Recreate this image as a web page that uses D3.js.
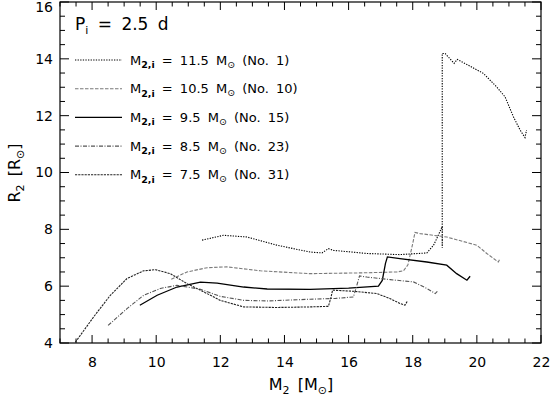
<!DOCTYPE html>
<html><head><meta charset="utf-8">
<script src="https://cdn.jsdelivr.net/npm/d3@7"></script>
<style>
html,body{margin:0;padding:0;background:#fff;}
svg{display:block;font-family:"DejaVu Sans",sans-serif;}
</style></head>
<body><svg id="c" width="551" height="397"></svg>
<script>
// ---- data ----
const xTicks = [8, 10, 12, 14, 16, 18, 20, 22];
const yTicks = [4, 6, 8, 10, 12, 14, 16];
const seriesInitMass = ["11.5", "10.5", "9.5", "8.5", "7.5"];
const seriesNo = ["1", "10", "15", "23", "31"];

const m1 = [11.43, 12.1, 12.83, 13.77, 14.8, 15.17, 15.37, 15.53, 16.57, 17.6, 18.44, 18.65, 18.8, 18.92, 18.92, 18.92, 19.01, 19.29, 19.39, 19.79, 20.2, 20.62, 20.88, 21.14, 21.35, 21.5, 21.55];
const r1 = [7.62, 7.79, 7.73, 7.44, 7.2, 7.17, 7.32, 7.26, 7.15, 7.11, 7.17, 7.44, 7.8, 8.1, 7.35, 14.19, 14.19, 13.84, 13.98, 13.74, 13.49, 13.01, 12.66, 11.96, 11.49, 11.23, 11.49];

const m10 = [10.47, 10.96, 11.59, 12.2, 13.25, 14.8, 16.5, 17.5, 17.71, 17.85, 18.0, 18.07, 18.23, 19.06, 20.0, 20.31, 20.67, 20.72];
const r10 = [6.24, 6.5, 6.65, 6.68, 6.54, 6.44, 6.47, 6.5, 6.54, 6.75, 7.5, 7.89, 7.85, 7.73, 7.44, 7.15, 6.85, 6.97];

const m15 = [9.49, 10.03, 10.65, 11.38, 11.9, 12.73, 13.46, 14.8, 16.0, 16.93, 17.05, 17.15, 17.21, 17.6, 18.44, 19.06, 19.37, 19.69, 19.79];
const r15 = [5.33, 5.68, 5.97, 6.14, 6.11, 5.97, 5.9, 5.89, 5.93, 6.0, 6.2, 6.8, 7.03, 6.97, 6.85, 6.74, 6.44, 6.21, 6.35];

const m23 = [8.5, 9.09, 9.61, 10.13, 10.65, 11.38, 12.0, 12.73, 13.46, 14.8, 15.6, 16.15, 16.25, 16.34, 16.57, 17.3, 18.02, 18.44, 18.7, 18.8];
const r23 = [4.62, 5.21, 5.68, 5.92, 6.03, 5.89, 5.64, 5.5, 5.48, 5.54, 5.57, 5.62, 6.0, 6.36, 6.32, 6.23, 6.15, 5.92, 5.74, 5.86];

const m31 = [7.48, 8.05, 8.57, 9.09, 9.61, 9.98, 10.44, 10.96, 11.48, 12.0, 12.73, 13.77, 14.8, 15.37, 15.45, 15.5, 16.15, 16.88, 17.3, 17.6, 17.76, 17.83];
const r31 = [4.03, 4.92, 5.68, 6.27, 6.54, 6.58, 6.44, 6.09, 5.8, 5.5, 5.27, 5.25, 5.27, 5.29, 5.6, 5.86, 5.82, 5.74, 5.56, 5.39, 5.33, 5.47];

const seriesM = [m1, m10, m15, m23, m31];
const seriesR = [r1, r10, r15, r23, r31];

// ---- styles ----
const strokes = ["#000", "#7a7a7a", "#000", "#555", "#222"];
const dashes = ["1.3,1.3", "3.5,1.5", null, "4,1.5,1,1.5", "2.2,1"];
const widths = [1.1, 1.1, 1.3, 1.1, 1.1];
const FONT = "'DejaVu Sans',sans-serif";

const svg = d3.select("#c");
const L = 60, R = 541, T = 2, B = 343;
const x = d3.scaleLinear().domain([7, 22]).range([L, R]);
const y = d3.scaleLinear().domain([4, 16]).range([B, T]);

const minorX = d3.range(7, 22.001, 0.5);
const minorY = d3.range(4, 16.001, 0.5);
const majLen = 8, minLen = 4.5;

// axes with D3 axis generators
const gB = svg.append("g").attr("transform", `translate(0,${B})`)
  .call(d3.axisBottom(x).tickValues(xTicks).tickSize(0).tickPadding(15).tickFormat(d3.format("d")));
const gL = svg.append("g").attr("transform", `translate(${L},0)`)
  .call(d3.axisLeft(y).tickValues(yTicks).tickSize(0).tickPadding(7).tickFormat(d3.format("d")));
[gB, gL].forEach(g => {
  g.select(".domain").remove();
  g.selectAll("text").attr("font-size", 14).attr("fill", "#000").attr("font-family", FONT);
});
gB.selectAll("text").attr("dy", "0.71em").attr("y", 14);
gL.selectAll(".tick").filter(d => d === 16).select("text").attr("dy", "0.32em").attr("y", 5.5);

// ticks on all four sides
const tk = svg.append("g").attr("stroke", "#000").attr("stroke-width", 1);
minorX.forEach(v => {
  const len = (Math.abs(v % 2) < 1e-6) ? majLen : minLen;
  tk.append("line").attr("x1", x(v)).attr("x2", x(v)).attr("y1", B).attr("y2", B - len);
  tk.append("line").attr("x1", x(v)).attr("x2", x(v)).attr("y1", T).attr("y2", T + len);
});
minorY.forEach(v => {
  const len = (Math.abs(v % 2) < 1e-6) ? majLen + 1 : minLen + 0.5;
  tk.append("line").attr("y1", y(v)).attr("y2", y(v)).attr("x1", L).attr("x2", L + len);
  tk.append("line").attr("y1", y(v)).attr("y2", y(v)).attr("x1", R).attr("x2", R - len);
});
svg.append("rect").attr("x", L).attr("y", T).attr("width", R - L).attr("height", B - T)
  .attr("fill", "none").attr("stroke", "#000").attr("stroke-width", 1.2);

// curves
svg.append("clipPath").attr("id", "pc").append("rect")
  .attr("x", L).attr("y", T).attr("width", R - L).attr("height", B - T);
const line = d3.line().x(d => x(d[0])).y(d => y(d[1]));
seriesM.forEach((ms, i) => {
  const pts = ms.map((m, j) => [m, seriesR[i][j]]);
  svg.append("path").attr("d", line(pts)).attr("fill", "none")
    .attr("clip-path", "url(#pc)")
    .attr("stroke", strokes[i]).attr("stroke-width", widths[i])
    .attr("stroke-dasharray", dashes[i]);
});

// P_i label
const pt = svg.append("text").attr("x", 75).attr("y", 30).attr("font-size", 17)
  .attr("font-family", FONT).attr("word-spacing", 4);
pt.append("tspan").text("P");
pt.append("tspan").attr("font-size", 11).attr("dy", 4).text("i");
pt.append("tspan").attr("dy", -4).text(" = 2.5 d");

// legend
const legY0 = 60, legDy = 28.7;
seriesInitMass.forEach((m, i) => {
  const yy = legY0 + i * legDy;
  svg.append("line").attr("x1", 75).attr("x2", 122).attr("y1", yy).attr("y2", yy)
    .attr("stroke", strokes[i]).attr("stroke-width", widths[i]).attr("stroke-dasharray", dashes[i]);
  const t = svg.append("text").attr("x", 130).attr("y", yy + 4.5).attr("font-size", 13)
    .attr("font-family", FONT).attr("word-spacing", 3);
  t.append("tspan").text("M");
  t.append("tspan").attr("font-size", 9.5).attr("font-weight", "bold").attr("dy", 3.5).text("2,i");
  t.append("tspan").attr("dy", -3.5).text(` = ${m} M`);
  t.append("tspan").attr("font-size", 9.5).attr("dy", 3).text("\u2299");
  t.append("tspan").attr("dy", -3).text(` (No. ${seriesNo[i]})`);
});

// axis titles
const xl = svg.append("text").attr("x", 301).attr("y", 390).attr("text-anchor", "middle")
  .attr("font-size", 16).attr("font-family", FONT).attr("word-spacing", 3);
xl.append("tspan").text("M");
xl.append("tspan").attr("font-size", 11).attr("dy", 4).text("2");
xl.append("tspan").attr("dy", -4).text(" [M");
xl.append("tspan").attr("font-size", 11).attr("dy", 4).text("\u2299");
xl.append("tspan").attr("dy", -4).text("]");

const yl = svg.append("text").attr("transform", "translate(20,173) rotate(-90)")
  .attr("text-anchor", "middle").attr("font-size", 16).attr("font-family", FONT).attr("word-spacing", 3);
yl.append("tspan").text("R");
yl.append("tspan").attr("font-size", 11).attr("dy", 4).text("2");
yl.append("tspan").attr("dy", -4).text(" [R");
yl.append("tspan").attr("font-size", 11).attr("dy", 4).text("\u2299");
yl.append("tspan").attr("dy", -4).text("]");
</script></body></html>
